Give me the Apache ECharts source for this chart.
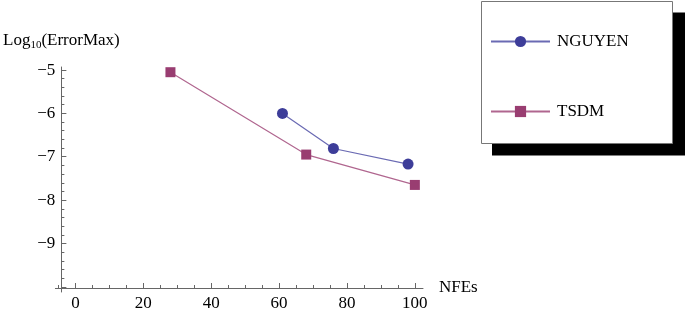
<!DOCTYPE html>
<html>
<head>
<meta charset="utf-8">
<script src="https://cdn.jsdelivr.net/npm/echarts@6/dist/echarts.min.js"></script>
<style>
html,body{margin:0;padding:0;background:#fff;}
#main{width:685px;height:312px;}
</style>
</head>
<body>
<div id="main"></div>
<script>
// data
var nguyenX = [61, 76, 98];
var nguyenY = [-6.0, -6.81, -7.17];
var tsdmX = [28, 68, 100];
var tsdmY = [-5.05, -6.95, -7.65];
var xMajor = [0, 20, 40, 60, 80, 100];
var xMinor = [-5, 5, 10, 15, 25, 30, 35, 45, 50, 55, 65, 70, 75, 85, 90, 95];
var yMajor = [-10, -9, -8, -7, -6, -5];
var yLabels = [-9, -8, -7, -6, -5];
var yMinor = [];
for (var k = -10; k < -5; k++) { // 4 minor ticks between majors
	for (var j = 1; j <= 4; j++) { yMinor.push(Math.round((k + j * 0.2) * 10) / 10); }
}

function pairs(xs, ys){
	var out = [];
	for (var i = 0; i < xs.length; i++) out.push([xs[i], ys[i]]);
	return out;
}

var font = '"Liberation Serif", "DejaVu Serif", serif';
var axisCol = '#666';
var minus = function(v){ return String(v).replace('-', '\u2212'); };

var myChart = echarts.init(document.getElementById('main'));
var option = {
	animation: false,
	textStyle: {fontFamily: font},
	graphic: [
		{type: 'rect', z: 0, shape: {x: 492, y: 12.5, width: 193, height: 143}, style: {fill: '#000'}},
		{type: 'rect', z: 1, shape: {x: 481.5, y: 1.5, width: 191, height: 142}, style: {fill: '#fff', stroke: '#777', lineWidth: 1}}
	],
	legend: {
		orient: 'vertical',
		left: 490,
		top: 33,
		padding: 0,
		itemWidth: 59,
		itemHeight: 14,
		itemGap: 53,
		z: 10,
		textStyle: {fontFamily: font, fontSize: 17, color: '#000', padding: [0, 0, 0, 2]},
		data: ['NGUYEN', 'TSDM']
	},
	grid: {left: 55, top: 67, width: 368, height: 227, containLabel: false},
	xAxis: [{
		type: 'value', min: -5.9, max: 102.4, position: 'bottom', offset: -4,
		name: 'NFEs', nameLocation: 'end', nameGap: 16,
		nameTextStyle: {fontFamily: font, fontSize: 17, color: '#000'},
		axisLine: {onZero: false, lineStyle: {color: axisCol, width: 1}},
		axisTick: {inside: true, length: 5, customValues: xMajor, lineStyle: {color: axisCol}},
		axisLabel: {customValues: xMajor, margin: 7, fontFamily: font, fontSize: 17, color: '#000'},
		splitLine: {show: false}
	}, {
		// minor ticks only
		type: 'value', min: -5.9, max: 102.4, position: 'bottom', offset: -4,
		axisLine: {show: false, onZero: false},
		axisTick: {inside: true, length: 3, customValues: xMinor, lineStyle: {color: axisCol}},
		axisLabel: {show: false},
		splitLine: {show: false}
	}],
	yAxis: [{
		type: 'value', min: -10.12, max: -4.93, position: 'left', offset: -6,
		name: '{a|Log}{b|10}{a|(ErrorMax)}', nameLocation: 'end', nameGap: 16,
		nameTextStyle: {
			fontFamily: font, color: '#000',
			rich: {
				a: {fontFamily: font, fontSize: 17, color: '#000'},
				b: {fontFamily: font, fontSize: 11, color: '#000', verticalAlign: 'bottom', padding: [10, 0, 0, 0]}
			}
		},
		axisLine: {onZero: false, lineStyle: {color: axisCol, width: 1}},
		axisTick: {inside: true, length: 5, customValues: yMajor, lineStyle: {color: axisCol}},
		axisLabel: {customValues: yLabels, margin: 6, fontFamily: font, fontSize: 17, color: '#000', formatter: minus},
		splitLine: {show: false}
	}, {
		// minor ticks only
		type: 'value', min: -10.12, max: -4.93, position: 'left', offset: -6,
		axisLine: {show: false, onZero: false},
		axisTick: {inside: true, length: 3, customValues: yMinor, lineStyle: {color: axisCol}},
		axisLabel: {show: false},
		splitLine: {show: false}
	}],
	series: [{
		name: 'NGUYEN',
		type: 'line',
		symbol: 'circle',
		symbolSize: 11,
		itemStyle: {color: '#3d3d99'},
		lineStyle: {color: '#6a6ab3', width: 1.2},
		data: pairs(nguyenX, nguyenY)
	}, {
		name: 'TSDM',
		type: 'line',
		symbol: 'rect',
		symbolSize: 10,
		itemStyle: {color: '#993d71'},
		lineStyle: {color: '#b0668f', width: 1.2},
		data: pairs(tsdmX, tsdmY)
	}]
};
myChart.setOption(option);
</script>
</body>
</html>
